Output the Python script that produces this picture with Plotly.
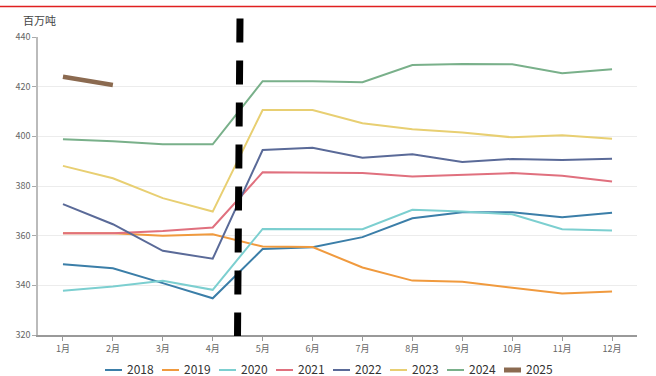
import plotly.graph_objects as go

months = ["1月", "2月", "3月", "4月", "5月", "6月", "7月", "8月", "9月", "10月", "11月", "12月"]

y2018 = [348.5, 346.9, 340.9, 334.8, 354.6, 355.3, 359.4, 367.0, 369.4, 369.4, 367.4, 369.2]
y2019 = [361.0, 361.0, 360.0, 360.6, 355.6, 355.4, 347.2, 341.9, 341.4, 339.1, 336.7, 337.5]
y2020 = [337.8, 339.5, 341.8, 338.2, 362.7, 362.7, 362.6, 370.4, 369.7, 368.6, 362.6, 362.1]
y2021 = [361.0, 361.0, 361.9, 363.3, 385.5, 385.5, 385.2, 383.8, 384.5, 385.2, 384.1, 381.8]
y2022 = [372.7, 364.6, 353.9, 350.7, 394.5, 395.4, 391.4, 392.8, 389.7, 390.9, 390.5, 391.0]
y2023 = [388.1, 383.1, 375.1, 369.7, 410.6, 410.6, 405.3, 402.9, 401.5, 399.6, 400.4, 399.0]
y2024 = [398.8, 398.0, 396.8, 396.8, 422.2, 422.2, 421.8, 428.7, 429.1, 429.0, 425.4, 427.0]
y2025 = [424.0, 420.7]

series = [
    ("2018", y2018, "#3b7ea8", 2),
    ("2019", y2019, "#f09a3e", 2),
    ("2020", y2020, "#7ccfd0", 2),
    ("2021", y2021, "#e0707e", 2),
    ("2022", y2022, "#5a6a98", 2),
    ("2023", y2023, "#e8cf72", 2),
    ("2024", y2024, "#79b08a", 2),
    ("2025", y2025, "#8b6a50", 4.5),
]

fig = go.Figure()
for name, vals, color, width in series:
    fig.add_trace(go.Scatter(
        x=months[:len(vals)], y=vals, name=name, mode="lines",
        line=dict(color=color, width=width), showlegend=False,
    ))

W, H = 656, 376
ML, MR, MT, MB = 38, 19, 37, 41
pw, ph = W - ML - MR, H - MT - MB

def px_x(px):
    return (px - ML) / pw

def px_y(py):
    return (H - MB - py) / ph

shapes = [
    # red rule across the top of the page
    dict(type="line", xref="paper", yref="paper",
         x0=px_x(0), x1=px_x(W), y0=px_y(6.5), y1=px_y(6.5),
         line=dict(color="#e02020", width=1.5)),
    # heavy dashed divider between April and May
    dict(type="line", xref="paper", yref="paper",
         x0=px_x(240), x1=px_x(237.5), y0=px_y(18.5), y1=px_y(336),
         line=dict(color="black", width=7, dash="24px,18px")),
]
annotations = [
    dict(text="百万吨", xref="paper", yref="paper", x=px_x(21), y=px_y(20),
         xanchor="left", yanchor="middle", showarrow=False,
         font=dict(size=11, color="#444")),
]

# compact legend row beneath the axis
leg_x0, leg_step, leg_y, sym_len = 105, 57, 370, 17
for i, (name, vals, color, width) in enumerate(series):
    sx = leg_x0 + i * leg_step
    shapes.append(dict(type="line", xref="paper", yref="paper",
                       x0=px_x(sx), x1=px_x(sx + sym_len), y0=px_y(leg_y), y1=px_y(leg_y),
                       line=dict(color=color, width=2 if width <= 2 else 5)))
    annotations.append(dict(text=name, xref="paper", yref="paper",
                            x=px_x(sx + sym_len + 3), y=px_y(leg_y - 1.5),
                            xanchor="left", yanchor="middle", showarrow=False,
                            font=dict(size=12, color="#333")))

fig.update_layout(
    width=W, height=H,
    margin=dict(l=ML, r=MR, t=MT, b=MB, autoexpand=False),
    paper_bgcolor="white", plot_bgcolor="white",
    font=dict(family="Noto Sans CJK SC", color="#555"),
    showlegend=False,
    xaxis=dict(
        type="category", range=[-0.5, 11.5], showgrid=False,
        showline=True, linecolor="#999", linewidth=1.5,
        ticks="outside", ticklen=4, tickcolor="#999",
        tickfont=dict(size=9, color="#666"),
    ),
    yaxis=dict(
        range=[320, 440], dtick=20, showgrid=True, gridcolor="#ececec",
        showline=True, linecolor="#bbb", linewidth=1.5,
        ticks="outside", ticklen=4, tickcolor="#aaa",
        tickfont=dict(size=9, color="#666"), zeroline=False,
    ),
    shapes=shapes,
    annotations=annotations,
)

fig.write_html("out.html")
